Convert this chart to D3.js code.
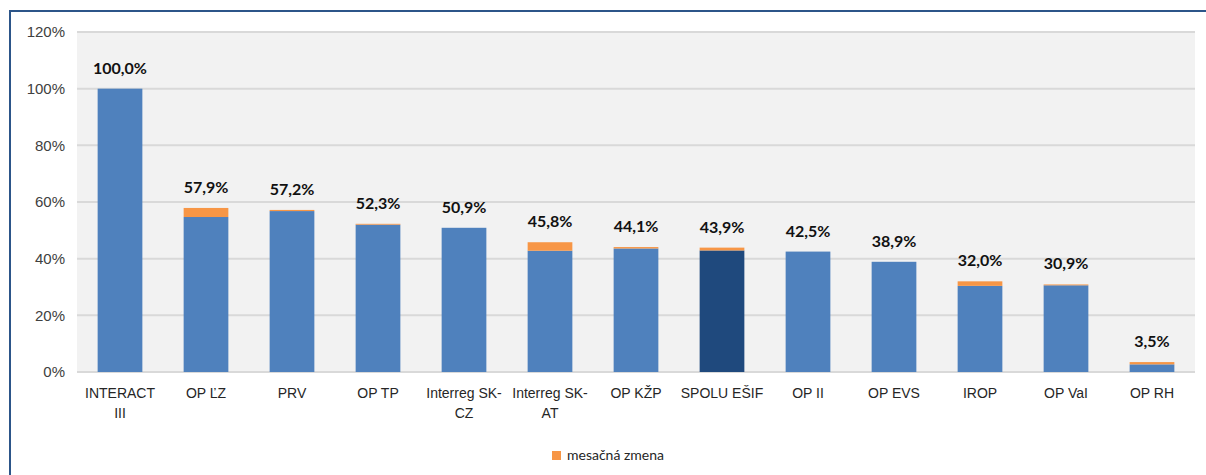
<!DOCTYPE html>
<html>
<head>
<meta charset="utf-8">
<script src="https://cdn.jsdelivr.net/npm/d3@7"></script>
<style>
  body { margin: 0; background: #fff; }
  svg { display: block; font-family: Lato, "Liberation Sans", sans-serif; }
</style>
</head>
<body>
<svg id="chart" width="1206" height="475"></svg>
<script>
// kategórie (\n = zalomenie riadku)
var categories = ['INTERACT\nIII', 'OP ĽZ', 'PRV', 'OP TP', 'Interreg SK-\nCZ', 'Interreg SK-\nAT',
  'OP KŽP', 'SPOLU EŠIF', 'OP II', 'OP EVS', 'IROP', 'OP VaI', 'OP RH'];
// stav čerpania pred zmenou
var baseValues = [100.0, 54.7, 56.8, 52.0, 50.9, 42.8, 43.6, 42.9, 42.5, 38.9, 30.4, 30.6, 2.7];
// mesačná zmena
var changeValues = [0.0, 3.2, 0.4, 0.3, 0.0, 3.0, 0.5, 1.0, 0.0, 0.0, 1.6, 0.3, 0.8];
// popisky celkom
var totalLabels = ['100,0%', '57,9%', '57,2%', '52,3%', '50,9%', '45,8%', '44,1%', '43,9%', '42,5%', '38,9%', '32,0%', '30,9%', '3,5%'];
var yTicks = [0, 20, 40, 60, 80, 100, 120];
var legendLabel = 'mesačná zmena';
var highlight = 'SPOLU EŠIF';

var svg = d3.select('#chart');

// rámček
svg.append('path')
  .attr('d', 'M10,475 V11 H1206')
  .attr('fill', 'none')
  .attr('stroke', '#2c5589')
  .attr('stroke-width', 2);

var pLeft = 77, pRight = 1195, pTop = 32, pBottom = 372;

var x = d3.scaleBand()
  .domain(categories)
  .range([pLeft, pRight])
  .paddingInner(0.48)
  .paddingOuter(0.24);

var y = d3.scaleLinear()
  .domain([0, 120])
  .range([pBottom, pTop]);

// pozadie
svg.append('rect')
  .attr('x', pLeft).attr('y', pTop)
  .attr('width', pRight - pLeft).attr('height', pBottom - pTop)
  .attr('fill', '#f2f2f2');

// mriežka
svg.append('g')
  .selectAll('line')
  .data(yTicks)
  .enter().append('line')
  .attr('x1', pLeft).attr('x2', pRight)
  .attr('y1', function(d) { return y(d); })
  .attr('y2', function(d) { return y(d); })
  .attr('stroke', '#d9d9d9')
  .attr('stroke-width', 2);

// y os
var yAxis = d3.axisLeft(y)
  .tickValues(yTicks)
  .tickSize(0)
  .tickPadding(12)
  .tickFormat(function(d) { return d + '%'; });

var gy = svg.append('g')
  .attr('transform', 'translate(' + pLeft + ',0)')
  .call(yAxis);
gy.select('.domain').remove();
gy.selectAll('text')
  .attr('fill', '#404040')
  .style('font-size', '15px');

// stĺpce
var data = categories.map(function(c, i) {
  return { cat: c, base: baseValues[i], change: changeValues[i], label: totalLabels[i] };
});

svg.append('g').selectAll('rect')
  .data(data)
  .enter().append('rect')
  .attr('x', function(d) { return x(d.cat); })
  .attr('y', function(d) { return y(d.base); })
  .attr('width', x.bandwidth())
  .attr('height', function(d) { return y(0) - y(d.base); })
  .attr('fill', function(d) { return d.cat === highlight ? '#1f497d' : '#4f81bd'; });

svg.append('g').selectAll('rect')
  .data(data.filter(function(d) { return d.change > 0; }))
  .enter().append('rect')
  .attr('x', function(d) { return x(d.cat); })
  .attr('y', function(d) { return y(d.base + d.change); })
  .attr('width', x.bandwidth())
  .attr('height', function(d) { return y(d.base) - y(d.base + d.change); })
  .attr('fill', '#f79646');

// popisky
svg.append('g').selectAll('text')
  .data(data)
  .enter().append('text')
  .attr('x', function(d) { return x(d.cat) + x.bandwidth() / 2; })
  .attr('y', function(d) { return y(d.base + d.change) - 15; })
  .attr('text-anchor', 'middle')
  .style('font-size', '16px')
  .style('font-weight', 'bold')
  .attr('fill', '#111')
  .text(function(d) { return d.label; });

// x os
var gx = svg.append('g')
  .attr('transform', 'translate(0,' + pBottom + ')')
  .call(d3.axisBottom(x).tickSize(0).tickPadding(16));
gx.select('.domain').remove();
gx.selectAll('text').each(function(d) {
  var t = d3.select(this);
  var lines = d.split('\n');
  t.text(null)
    .attr('fill', '#262626')
    .style('font-size', '14px');
  lines.forEach(function(l, i) {
    t.append('tspan')
      .attr('x', 0)
      .attr('dy', i === 0 ? '0.71em' : '1.45em')
      .text(l);
  });
});
gx.selectAll('text').attr('dy', null);

// legenda
var lg = svg.append('g').attr('transform', 'translate(552,451)');
lg.append('rect').attr('width', 9).attr('height', 9).attr('fill', '#f79646');
lg.append('text')
  .attr('x', 15).attr('y', 9)
  .style('font-size', '14px')
  .attr('fill', '#262626')
  .text(legendLabel);
</script>
</body>
</html>
